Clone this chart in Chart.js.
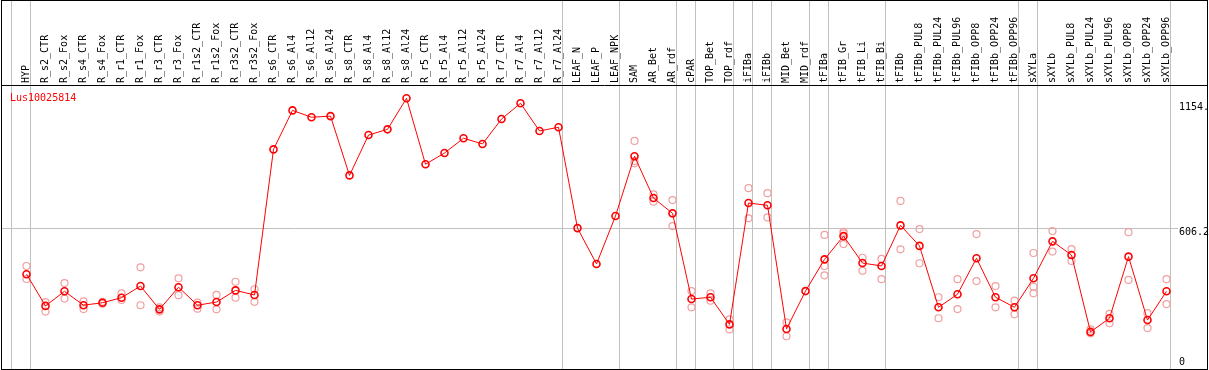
<!DOCTYPE html>
<html>
<head>
<meta charset="utf-8">
<script src="https://cdn.jsdelivr.net/npm/chart.js@4/dist/chart.umd.min.js"></script>
<style>
html, body { margin: 0; padding: 0; background: #fff; }
canvas { display: block; }
</style>
</head>
<body>
<canvas id="grafico-gene" width="1209" height="370"></canvas>
<script>
/* DADOS */
const geneName = "Lus10025814";

const categories = ["HYP", "R_s2_CTR", "R_s2_Fox", "R_s4_CTR", "R_s4_Fox", "R_r1_CTR", "R_r1_Fox", "R_r3_CTR", "R_r3_Fox",
    "R_r1s2_CTR", "R_r1s2_Fox", "R_r3s2_CTR", "R_r3s2_Fox", "R_s6_CTR", "R_s6_Al4", "R_s6_Al12", "R_s6_Al24",
    "R_s8_CTR", "R_s8_Al4", "R_s8_Al12", "R_s8_Al24", "R_r5_CTR", "R_r5_Al4", "R_r5_Al12", "R_r5_Al24",
    "R_r7_CTR", "R_r7_Al4", "R_r7_Al12", "R_r7_Al24", "LEAF_N", "LEAF_P", "LEAF_NPK", "SAM", "AR_Bet", "AR_rdf",
    "cPAR", "TOP_Bet", "TOP_rdf", "iFIBa", "iFIBb", "MID_Bet", "MID_rdf", "tFIBa", "tFIB_Gr", "tFIB_Li", "tFIB_Bi",
    "tFIBb", "tFIBb_PUL8", "tFIBb_PUL24", "tFIBb_PUL96", "tFIBb_OPP8", "tFIBb_OPP24", "tFIBb_OPP96",
    "sXYLa", "sXYLb", "sXYLb_PUL8", "sXYLb_PUL24", "sXYLb_PUL96", "sXYLb_OPP8", "sXYLb_OPP24", "sXYLb_OPP96"];

// media das replicas
const meanValues = [405, 266, 330, 269, 280, 302, 353, 251, 348, 269, 283, 334, 314,
    952, 1123, 1093, 1098, 838, 1015, 1040, 1176, 887, 936, 1001, 976, 1085, 1154, 1033, 1049,
    607, 450, 660, 922, 739, 672, 296, 304, 185, 717, 707, 165, 331,
    470, 572, 454, 441, 619, 529, 260, 317, 475, 304, 260,
    387, 549, 489, 152, 212, 482, 204, 330];

// replicas
const rep1 = [441, 283, 366, 286, 284, 321, 435, 260, 387, 280, 314, 372, 339,
    null, null, null, null, null, null, null, null, null, null, null, null, null, null, null, null,
    null, null, null, 989, 755, 730, 331, 321, 207, 782, 760, 194, null,
    577, 591, 477, 472, 726, 603, 304, 383, 581, 353, 289,
    498, 594, 515, 163, 231, 589, 234, 383];
const rep2 = [384, 241, 298, 252, 276, 292, 269, 241, 313, 254, 251, 302, 284,
    null, null, null, null, null, null, null, null, null, null, null, null, null, null, null, null,
    null, null, null, 901, 723, 616, 260, 289, 163, 650, 654, 133, null,
    441, 584, 420, 383, 514, 453, 212, 252, 375, 260, 229,
    350, 504, 463, 146, 190, 380, 169, 274];
const rep3 = [null, null, null, null, null, null, null, null, null, null, null, null, null,
    null, null, null, null, null, null, null, null, null, null, null, null, null, null, null, null,
    null, null, null, 891, null, 670, null, null, null, null, null, null, null,
    400, 537, null, null, null, null, null, null, null, null, null,
    321, null, null, null, null, null, null, null];

const yTicks = [0, 606.2, 1154.4];
const groupEnds = [-1, 0, 28, 31, 34, 35, 37, 38, 39, 41, 42, 45, 52, 53, 60];
/* FIM DADOS */

const fonteMono = { family: "DejaVu Sans Mono", size: 10 };
const fonteEixoY = { family: "DejaVu Sans Mono", size: 10, lineHeight: 0.8 };

function repDataset(values) {
    return {
        data: values,
        showLine: false,
        pointRadius: 3.5,
        pointBorderWidth: 1.2,
        pointBorderColor: "#f0a0a0",
        pointBackgroundColor: "rgba(0,0,0,0)",
        order: 2
    };
}

/* moldura, linhas cinza e nome do gene */
const moldura = {
    id: "moldura",
    beforeDatasetsDraw(chart) {
        const ctx = chart.ctx;
        const x = chart.scales.x;
        const y = chart.scales.y;
        ctx.save();
        ctx.lineWidth = 1;
        ctx.strokeStyle = "#c0c0c0";
        groupEnds.forEach(i => {
            const px = Math.round(x.getPixelForValue(i) + 4) - 0.5;
            ctx.beginPath();
            ctx.moveTo(px, 0);
            ctx.lineTo(px, 370);
            ctx.stroke();
        });
        const py = Math.round(y.getPixelForValue(606.2)) + 0.5;
        ctx.beginPath();
        ctx.moveTo(1, py);
        ctx.lineTo(1178, py);
        ctx.stroke();

        ctx.strokeStyle = "#000";
        ctx.strokeRect(1.5, 0.5, 1206, 369);
        ctx.beginPath();
        ctx.moveTo(1, 85.5);
        ctx.lineTo(1208, 85.5);
        ctx.stroke();
        ctx.restore();
    },
    afterDraw(chart) {
        const ctx = chart.ctx;
        ctx.save();
        ctx.font = "10px 'DejaVu Sans Mono'";
        ctx.fillStyle = "#ff0000";
        ctx.textBaseline = "middle";
        ctx.fillText(geneName, 10, 98);
        ctx.restore();
    }
};

new Chart(document.getElementById("grafico-gene"), {
    type: "line",
    data: {
        labels: categories,
        datasets: [{
            data: meanValues,
            borderColor: "#ff0000",
            borderWidth: 1,
            tension: 0,
            pointRadius: 3.5,
            pointBorderWidth: 1.6,
            pointBorderColor: "#ff0000",
            pointBackgroundColor: "rgba(0,0,0,0)",
            order: 1
        },
            repDataset(rep1),
            repDataset(rep2),
            repDataset(rep3)
        ]
    },
    options: {
        responsive: false,
        animation: false,
        devicePixelRatio: 1,
        layout: { autoPadding: false, padding: { left: 17, right: 0, top: 0, bottom: 0 } },
        plugins: { legend: { display: false }, tooltip: { enabled: false } },
        scales: {
            x: {
                type: "category",
                position: "top",
                offset: true,
                grid: { display: false, drawTicks: false },
                border: { display: false },
                ticks: {
                    autoSkip: false,
                    minRotation: 90,
                    maxRotation: 90,
                    padding: 2,
                    labelOffset: 12,
                    color: "#000",
                    font: fonteMono
                },
                afterFit: s => { s.height = 85; s.paddingLeft = 0; s.paddingRight = 0; }
            },
            y: {
                position: "right",
                min: -14.9,
                max: 1234.3,
                afterBuildTicks: s => { s.ticks = yTicks.map(v => ({ value: v })); },
                grid: { display: false, drawTicks: false },
                border: { display: false },
                ticks: {
                    padding: 3,
                    color: "#000",
                    font: fonteEixoY,
                    callback: v => {
                        const t = String(v).slice(0, 5);
                        return v === 0 ? [t, ""] : ["", t];
                    }
                },
                afterFit: s => { s.width = 33; s.paddingTop = 0; s.paddingBottom = 0; }
            }
        }
    },
    plugins: [moldura]
});
</script>
</body>
</html>
